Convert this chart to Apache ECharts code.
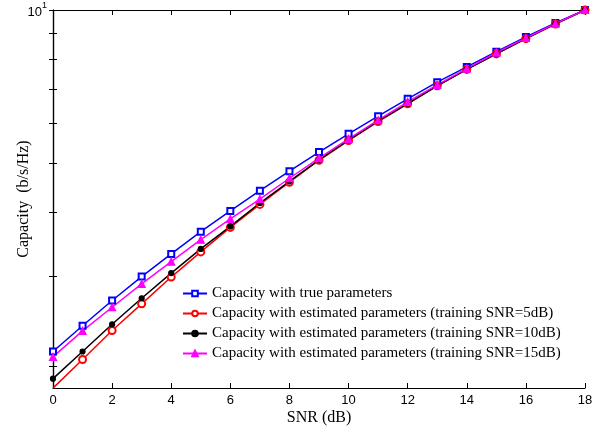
<!DOCTYPE html>
<html>
<head>
<meta charset="utf-8">
<script src="https://cdn.jsdelivr.net/npm/echarts@6/dist/echarts.min.js"></script>
<style>html,body{margin:0;padding:0;background:#fff;}#c{width:603px;height:427px;}</style>
</head>
<body>
<div id="c"></div>
<script>
var snr = [0,1,2,3,4,5,6,7,8,9,10,11,12,13,14,15,16,17,18];
var capTrue = [2.135,2.398,2.688,2.996,3.319,3.670,4.030,4.417,4.824,5.260,5.713,6.188,6.692,7.215,7.731,8.284,8.853,9.430,10];
var capEst5 = [1.809,2.059,2.348,2.648,2.989,3.349,3.742,4.152,4.589,5.069,5.542,6.039,6.543,7.096,7.645,8.199,8.784,9.387,10];
var capEst10 = [1.888,2.135,2.415,2.716,3.043,3.395,3.759,4.178,4.609,5.080,5.550,6.050,6.550,7.100,7.650,8.200,8.790,9.390,10];
var capEst15 = [2.084,2.344,2.608,2.899,3.205,3.540,3.887,4.254,4.673,5.119,5.585,6.077,6.602,7.129,7.673,8.248,8.812,9.400,10];
var seriesNames = [
  'Capacity with true parameters',
  'Capacity with estimated parameters (training SNR=5dB)',
  'Capacity with estimated parameters (training SNR=10dB)',
  'Capacity with estimated parameters (training SNR=15dB)'
];
var yMinorTicks = [2,3,4,5,6,7,8,9,10];
var yLabels = [10];

function pairs(v){ return snr.map(function(x,i){ return [x, v[i]]; }); }

var chart = echarts.init(document.getElementById('c'), null, {renderer:'canvas'});
var serif = '"Liberation Serif", "DejaVu Serif", serif';
var sans = '"Liberation Sans", Arial, sans-serif';
var axisLineStyle = {color:'#000', width:1.2};

function mkSeries(name, data, color, symbol, size){
  return {
    name: name, type:'line', data: pairs(data),
    symbol: symbol, symbolSize: size,
    lineStyle:{color:color, width:1.5},
    itemStyle:{color:color, borderColor:color, borderWidth:1.2},
    emphasis:{disabled:true},
    animation:false, z:3
  };
}

chart.setOption({
  backgroundColor:'#fff',
  animation:false,
  grid:{left:53, right:18, top:10, bottom:39, containLabel:false, outerBoundsMode:'none'},
  legend:{
    orient:'vertical', left:180, top:284,
    itemWidth:24, itemHeight:7, itemGap:5,
    backgroundColor:'#fff', padding:[2,4,2,2],
    textStyle:{fontFamily:serif, fontSize:15, color:'#000'},
    data: seriesNames
  },
  xAxis:[{
    type:'value', min:0, max:18, interval:2, position:'bottom',
    name:'SNR (dB)', nameLocation:'middle', nameGap:22, nameMoveOverlap:false,
    nameTextStyle:{fontFamily:serif, fontSize:16, color:'#000'},
    axisLine:{show:true, lineStyle:axisLineStyle},
    axisTick:{show:true, inside:true, length:5, lineStyle:{color:'#000'}},
    axisLabel:{fontFamily:sans, fontSize:13, color:'#000', margin:6},
    splitLine:{show:false}
  },{
    type:'value', min:0, max:18, interval:2, position:'top',
    axisLine:{show:true, lineStyle:axisLineStyle},
    axisTick:{show:true, inside:true, length:5, lineStyle:{color:'#000'}},
    axisLabel:{show:false},
    splitLine:{show:false}
  }],
  yAxis:[{
    type:'log', logBase:10, min:1.81, max:10, position:'left',
    name:'Capacity  (b/s/Hz)', nameLocation:'middle', nameGap:21, nameRotate:90, nameMoveOverlap:false,
    nameTextStyle:{fontFamily:serif, fontSize:16, color:'#000'},
    axisLine:{show:true, lineStyle:axisLineStyle},
    axisTick:{show:true, inside:true, length:4, customValues:yMinorTicks, lineStyle:{color:'#000'}},
    axisLabel:{
      customValues:yLabels, color:'#000', margin:6,
      formatter:function(v){ return '{b|10}{s|1}'; },
      rich:{
        b:{fontFamily:sans, fontSize:13, color:'#000', verticalAlign:'bottom'},
        s:{fontFamily:sans, fontSize:9, color:'#000', verticalAlign:'top', padding:[0,0,8,0]}
      }
    },
    splitLine:{show:false}
  },{
    type:'log', logBase:10, min:1.81, max:10, position:'right',
    axisLine:{show:true, lineStyle:axisLineStyle},
    axisTick:{show:true, inside:true, length:4, customValues:yMinorTicks, lineStyle:{color:'#000'}},
    axisLabel:{show:false},
    splitLine:{show:false}
  }],
  series:[
    mkSeries(seriesNames[0], capTrue, '#0000ff', 'emptyRect', 6),
    mkSeries(seriesNames[1], capEst5, '#ff0000', 'emptyCircle', 7),
    mkSeries(seriesNames[2], capEst10, '#000000', 'circle', 5),
    mkSeries(seriesNames[3], capEst15, '#ff00ff', 'triangle', 7)
  ]
});
</script>
</body>
</html>
